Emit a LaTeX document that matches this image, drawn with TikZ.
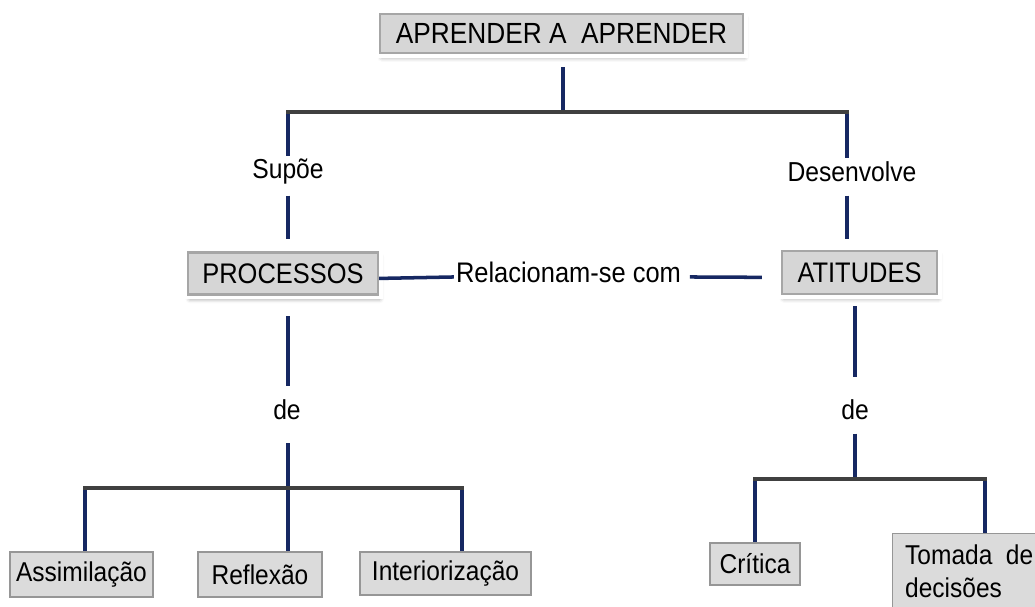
\documentclass[tikz,border=0pt]{standalone}
\usepackage{fontspec}
\setmainfont{Liberation Sans}[FakeStretch=0.9]
\usetikzlibrary{positioning,shadows.blur}
\definecolor{linkblue}{RGB}{22,40,98}
\definecolor{bargray}{RGB}{64,64,64}
\definecolor{boxgray}{RGB}{214,214,214}
\definecolor{flatgray}{RGB}{219,219,219}
\definecolor{edgegray}{RGB}{150,150,150}

\tikzset{
  link/.style={draw=linkblue, line width=2pt},
  bar/.style={draw=bargray, line width=2pt, line cap=rect},
  bevelbox/.style={blur shadow={shadow xshift=1pt, shadow yshift=-2.5pt, shadow blur radius=2.5pt, shadow opacity=40},
    preaction={draw=white, line width=5.5pt},
    fill=boxgray, draw=gray!70, line width=1.4pt, inner sep=0pt, font=\fontsize{16.1}{19}\selectfont},
  flatbox/.style={fill=flatgray, draw=edgegray, line width=0.8pt, inner sep=0pt, font=\fontsize{15.5}{18.5}\selectfont},
  lbl/.style={inner sep=0pt, font=\fontsize{15.6}{18.5}\selectfont},
}

\begin{document}
\begin{tikzpicture}[x=0.02cm, y=-0.02cm]
\useasboundingbox (0,0) rectangle (1035,606);

% main boxes
\node[bevelbox, minimum width=7.26cm, minimum height=0.78cm, font=\fontsize{16.6}{19}\selectfont] (aprender) at (561.5,33.5) {APRENDER A\ \ APRENDER};
\node[bevelbox, minimum width=3.8cm, minimum height=0.84cm] (proc) at (283,273.5) {PROCESSOS};
\node[bevelbox, minimum width=3.1cm, minimum height=0.86cm] (atit) at (859.5,272.5) {ATITUDES};

% link words
\node[lbl] (supoe) at (288,172) {Supõe};
\node[lbl] (desenv) at (852,172) {Desenvolve};
\node[lbl, font=\fontsize{16.1}{19}\selectfont] (rel) at (568.5,272) {Relacionam-se com};
\node[lbl] (deL) at (287,410) {de};
\node[lbl] (deR) at (855,410) {de};

% leaves
\node[flatbox, minimum width=2.86cm, minimum height=0.9cm] (assim) at (81.5,574.5) {Assimilação};
\node[flatbox, minimum width=2.48cm, minimum height=0.9cm] (refl) at (260,574.5) {Reflexão};
\node[flatbox, minimum width=3.42cm, minimum height=0.86cm] (inter) at (445.5,573.5) {Interiorização};
\node[flatbox, minimum width=1.8cm, minimum height=0.84cm] (crit) at (755,564) {Crítica};
\node[flatbox, anchor=north west, minimum width=3.2cm, minimum height=1.5cm, text width=2.7cm, align=left] (toma) at (892,533) {Tomada\hspace{0.5em}de\\decisões};

% top split
\coordinate (jt) at (563,112);
\coordinate (jl) at (288,112);
\coordinate (jr) at (847,112);
\draw[link, shorten <=7.4pt] (jt |- aprender.south) -- (jt);
\draw[link, shorten >=1.5pt] (jl) -- (jl |- supoe.north);
\draw[link, shorten <=6pt, shorten >=7pt] (jl |- supoe.south) -- (jl |- proc.north);
\draw[link, shorten >=2.3pt] (jr) -- (jr |- desenv.north);
\draw[link, shorten <=7.5pt, shorten >=6.2pt] (jr |- desenv.south) -- (jr |- atit.north);
\draw[bar] (jl) -- (jr);

% middle relation
\draw[link, shorten >=1pt] ([yshift=-2.8pt]proc.east) -- ([yshift=-2.8pt]rel.west);
\draw[link, shorten <=4.8pt, shorten >=10.8pt] ([yshift=-2.8pt]rel.east) -- ([yshift=-2.8pt]atit.west);

% processes
\coordinate (bl) at (85,488);
\coordinate (br) at (462,488);
\draw[link, shorten <=11.6pt, shorten >=7.5pt] (jl |- proc.south) -- (jl |- deL.north);
\draw[link, shorten <=13pt] (jl |- deL.south) -- (jl |- refl.north);
\draw[link] (bl) -- (bl |- assim.north);
\draw[link] (br) -- (br |- inter.north);
\draw[bar] (bl) -- (br);

% attitudes
\coordinate (jd) at (855,479);
\coordinate (cl) at (755,479);
\coordinate (cr) at (985,479);
\draw[link, shorten <=6.2pt, shorten >=13pt] (jd |- atit.south) -- (jd |- deR.north);
\draw[link, shorten <=7.5pt] (jd |- deR.south) -- (jd);
\draw[link] (cl) -- (cl |- crit.north);
\draw[link] (cr) -- (cr |- toma.north);
\draw[bar] (cl) -- (cr);
\end{tikzpicture}
\end{document}
